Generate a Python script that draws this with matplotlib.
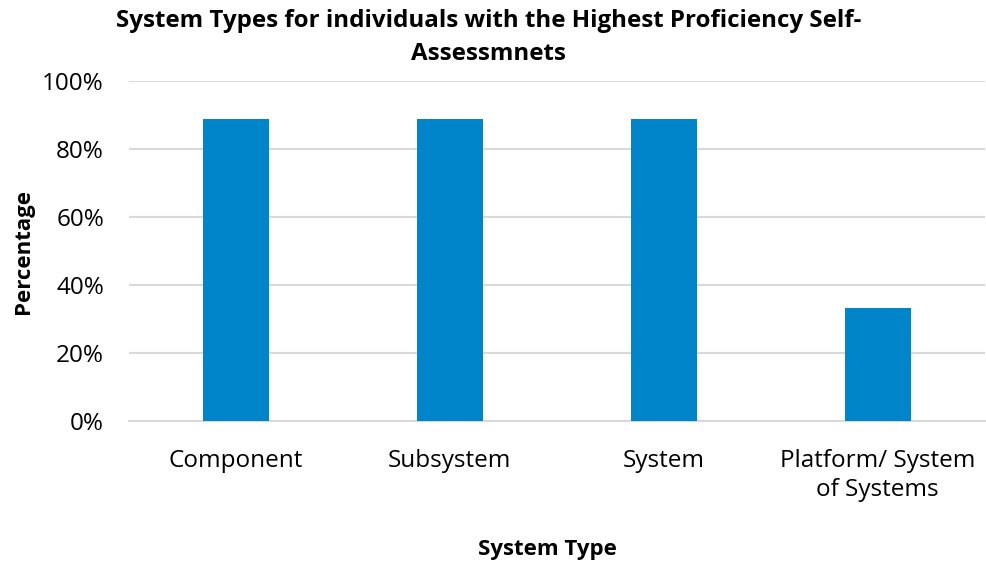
import matplotlib
matplotlib.use("Agg")
import matplotlib.pyplot as plt
from matplotlib.ticker import PercentFormatter

categories = ["Component", "Subsystem", "System", "Platform/ System\nof Systems"]
percentages = [88.9, 88.9, 88.9, 33.3]
y_ticks = [0, 20, 40, 60, 80, 100]

plt.rcParams["font.family"] = ["Open Sans", "DejaVu Sans"]

fig = plt.figure(figsize=(9.87, 5.67), dpi=100)
ax = fig.add_axes([0.1307, 0.2575, 0.867, 0.5995])

x = range(len(categories))
ax.bar(x, percentages, width=0.31, color="#0084CA", zorder=3)

ax.set_xlim(-0.5, len(categories) - 0.5)
ax.set_ylim(0, 100)
ax.set_yticks(y_ticks)
ax.yaxis.set_major_formatter(PercentFormatter(decimals=0))
ax.set_xticks(list(x))
ax.set_xticklabels(categories, fontsize=17.5, linespacing=1.3)
ax.tick_params(axis="y", labelsize=17.5, length=0, pad=18)
ax.tick_params(axis="x", length=0, pad=20)

ax.grid(axis="y", color="#d9d9d9", linewidth=1.5, zorder=0)
ax.set_axisbelow(True)
for side in ["top", "right", "left"]:
    ax.spines[side].set_visible(False)
ax.spines["bottom"].set_color("#d9d9d9")
ax.spines["bottom"].set_linewidth(1.5)

ax.set_ylabel("Percentage", fontsize=16, fontweight="bold")
ax.yaxis.set_label_coords(-0.111, 0.5)
fig.text(0.555, 0.03, "System Type", ha="center", va="center",
         fontsize=16, fontweight="bold")
fig.text(0.495, 0.985,
         "System Types for individuals with the Highest Proficiency Self-\nAssessmnets",
         ha="center", va="top", fontsize=17.4, fontweight="bold", linespacing=1.5)

fig.savefig("out.png", dpi=100)
